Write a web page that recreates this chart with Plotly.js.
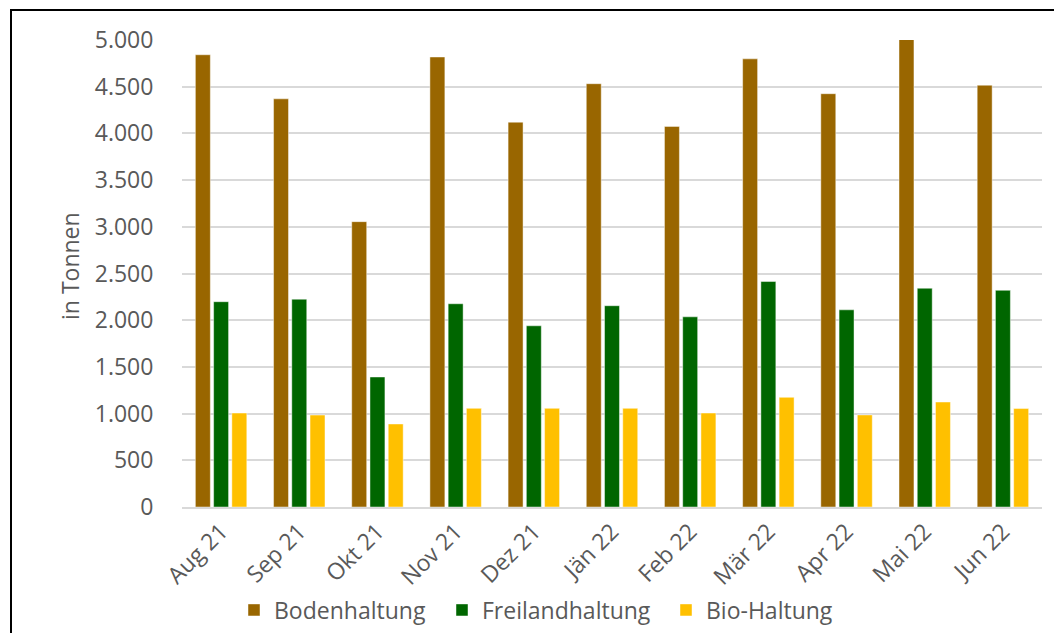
<!DOCTYPE html>
<html>
<head>
<meta charset="utf-8">
<script src="https://cdn.plot.ly/plotly-3.0.1.min.js"></script>
<style>
html,body{margin:0;padding:0;background:#fff;overflow:hidden;}
#chart{position:absolute;left:0;top:0;width:1054px;height:633px;}
#frame{position:absolute;left:10px;top:9px;width:1100px;height:700px;border-left:2px solid #000;border-top:2px solid #000;pointer-events:none;}
</style>
</head>
<body>
<div id="chart"></div>
<div id="frame"></div>
<script>
const months = ["Aug 21","Sep 21","Okt 21","Nov 21","Dez 21","Jän 22","Feb 22","Mär 22","Apr 22","Mai 22","Jun 22"];
const bodenhaltung = [4842,4370,3055,4818,4120,4532,4075,4798,4425,5010,4516];
const freilandhaltung = [2198,2225,1392,2176,1940,2155,2036,2414,2111,2342,2320];
const bioHaltung = [1006,984,889,1056,1056,1056,1006,1174,986,1124,1054];
const yTicks = [0,500,1000,1500,2000,2500,3000,3500,4000,4500,5000];
const yTickLabels = ["0","500","1.000","1.500","2.000","2.500","3.000","3.500","4.000","4.500","5.000"];
const yTitle = "in Tonnen";

const font = "Open Sans, sans-serif";
const grey = "#595959";
const outline = {width:1, color:"rgba(255,255,255,0.45)"};

const traces = [
  {type:"bar", name:"Bodenhaltung", x:months, y:bodenhaltung, marker:{color:"#996600", line:outline}, cliponaxis:false, legend:"legend"},
  {type:"bar", name:"Freilandhaltung", x:months, y:freilandhaltung, marker:{color:"#006600", line:outline}, cliponaxis:false, legend:"legend2"},
  {type:"bar", name:"Bio-Haltung", x:months, y:bioHaltung, marker:{color:"#FFC000", line:outline}, cliponaxis:false, legend:"legend3"}
];

function leg(px){
  return {orientation:"h", xref:"container", yref:"container", x:px/1054, xanchor:"left", y:1-610/633, yanchor:"middle",
          font:{family:font, size:23, color:grey}, itemwidth:30, bgcolor:"rgba(0,0,0,0)"};
}

const layout = {
  width:1054, height:633,
  margin:{l:182, r:12, t:40, b:126},
  paper_bgcolor:"#fff", plot_bgcolor:"#fff",
  barmode:"group", bargap:0.3, bargroupgap:0.18,
  font:{family:font, color:grey, size:23},
  showlegend:true,
  legend:leg(234), legend2:leg(442), legend3:leg(666),
  xaxis:{automargin:false, tickangle:-45, tickfont:{family:font, size:23, color:grey}, showgrid:false,
         showline:true, linecolor:"#d9d9d9", linewidth:2, ticks:"", zeroline:false},
  yaxis:{automargin:false, range:[0,5000], tickvals:yTicks, ticktext:yTickLabels, showgrid:true, gridcolor:"#d9d9d9", gridwidth:2,
         zeroline:false, showline:false, ticks:"outside", ticklen:23, tickcolor:"rgba(0,0,0,0)",
         tickfont:{family:font, size:23, color:grey}},
  annotations:[{text:yTitle, xref:"paper", yref:"paper", x:(70-182)/860, y:(507-266)/467, xanchor:"center", yanchor:"middle",
                textangle:-90, showarrow:false, font:{family:font, size:23, color:grey}}]
};

Plotly.newPlot("chart", traces, layout, {displayModeBar:false, staticPlot:true});
</script>
</body>
</html>
